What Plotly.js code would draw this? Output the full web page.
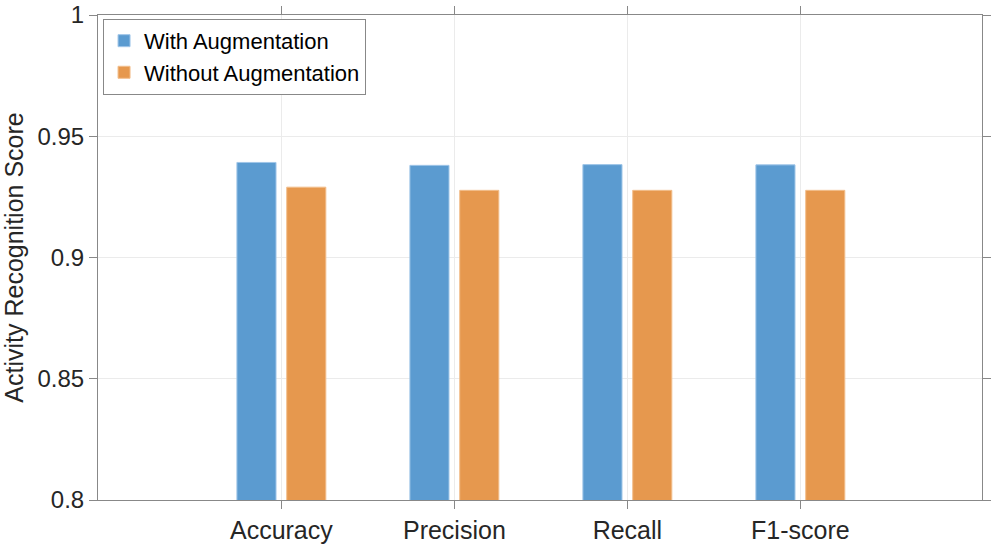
<!DOCTYPE html>
<html>
<head>
<meta charset="utf-8">
<script src="https://cdn.plot.ly/plotly-3.0.1.min.js"></script>
<style>html,body{margin:0;padding:0;background:#fff;}#chart{width:996px;height:549px;}</style>
</head>
<body>
<div id="chart"></div>
<script>
var categories = ["Accuracy", "Precision", "Recall", "F1-score"];
var seriesNames = ["With Augmentation", "Without Augmentation"];
var withAug = [0.9392, 0.9380, 0.9383, 0.9382];
var withoutAug = [0.9290, 0.9277, 0.9277, 0.9277];
var yTickVals = [0.8, 0.85, 0.9, 0.95, 1];
var yTickText = ["0.8", "0.85", "0.9", "0.95", "1"];

var font = "Liberation Sans, Arial, Helvetica, sans-serif";
var txt = "#262626";

var traces = [
  {type: "bar", name: seriesNames[0], x: categories, y: withAug,
   marker: {color: "rgb(91,155,208)", line: {color: "rgb(160,198,232)", width: 1}}},
  {type: "bar", name: seriesNames[1], x: categories, y: withoutAug,
   marker: {color: "rgb(230,152,78)", line: {color: "rgb(242,190,140)", width: 1}}}
];

var layout = {
  width: 996, height: 549,
  margin: {l: 98, r: 14, t: 15, b: 49},
  paper_bgcolor: "#fff", plot_bgcolor: "#fff",
  barmode: "group", bargap: 0.424, bargroupgap: 0.215,
  font: {family: font, color: txt, size: 22},
  showlegend: true,
  legend: {x: 0.0057, y: 0.992, xanchor: "left", yanchor: "top",
    bgcolor: "#fff", bordercolor: "#888", borderwidth: 1,
    font: {family: font, size: 22, color: "#000"},
    tracegroupgap: 0, itemwidth: 30},
  xaxis: {
    type: "category", range: [-1.06, 4.05],
    showgrid: true, gridcolor: "#ebebeb", gridwidth: 1,
    showline: true, linecolor: "#888", linewidth: 1, mirror: "ticks",
    ticks: "outside", ticklen: 8, tickcolor: "#888",
    tickfont: {family: font, size: 25, color: txt}, zeroline: false
  },
  yaxis: {
    range: [0.8, 1], tickvals: yTickVals, ticktext: yTickText,
    ticklabeloverflow: "allow",
    showgrid: true, gridcolor: "#ebebeb", gridwidth: 1,
    showline: true, linecolor: "#888", linewidth: 1, mirror: "ticks",
    ticks: "outside", ticklen: 8, tickcolor: "#888",
    tickfont: {family: font, size: 24, color: txt}, zeroline: false,
    title: {text: "Activity Recognition Score", font: {family: font, size: 25, color: txt}, standoff: 10}
  }
};

Plotly.newPlot("chart", traces, layout, {displayModeBar: false, staticPlot: true});
</script>
</body>
</html>
